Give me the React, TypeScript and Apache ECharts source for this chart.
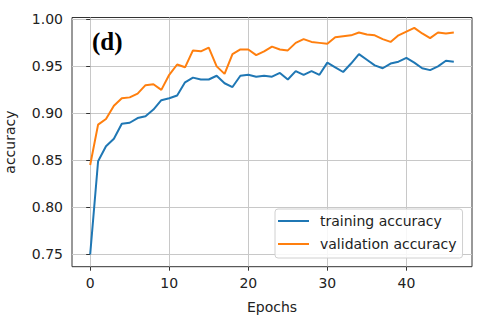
import React, { useEffect, useRef } from "react";
import * as echarts from "echarts";

const epochs: number[] = Array.from({ length: 47 }, (_, i) => i);
const trainingAcc: number[] = [
  0.75, 0.849, 0.865, 0.873, 0.889, 0.89, 0.895, 0.897, 0.904, 0.914,
  0.916, 0.919, 0.933, 0.938, 0.936, 0.936, 0.94, 0.932, 0.928, 0.94,
  0.941, 0.939, 0.94, 0.939, 0.943, 0.936, 0.945, 0.941, 0.945, 0.941,
  0.954, 0.949, 0.944, 0.953, 0.963, 0.957, 0.951, 0.948, 0.953, 0.955,
  0.959, 0.954, 0.948, 0.946, 0.95, 0.956, 0.955,
];
const validationAcc: number[] = [
  0.845, 0.888, 0.894, 0.908, 0.916, 0.917, 0.921, 0.93, 0.931, 0.925,
  0.941, 0.952, 0.949, 0.967, 0.966, 0.97, 0.95, 0.942, 0.963, 0.968,
  0.968, 0.962, 0.966, 0.971, 0.968, 0.967, 0.975, 0.979, 0.976, 0.975,
  0.974, 0.981, 0.982, 0.983, 0.986, 0.984, 0.983, 0.979, 0.976, 0.983,
  0.987, 0.991, 0.985, 0.98, 0.986, 0.985, 0.986,
];
const xTicks: number[] = [0, 10, 20, 30, 40];
const yTicks: number[] = [0.75, 0.8, 0.85, 0.9, 0.95, 1.0];
const seriesNames: string[] = ["training accuracy", "validation accuracy"];
const panelLabel = "(d)";

const FONT = "'DejaVu Sans', sans-serif";

export default function App() {
  const ref = useRef<HTMLDivElement>(null);
  useEffect(() => {
    if (!ref.current) return;
    const chart = echarts.init(ref.current, null, { renderer: "svg" });
    const axisCommon = {
      axisLine: { show: false },
      axisTick: { show: true, length: 4, inside: false, lineStyle: { color: "#333", width: 1 } },
      splitLine: { show: true, lineStyle: { color: "#c8c8c8", width: 1 } },
      nameTextStyle: { fontFamily: FONT, fontSize: 14, color: "#222" },
    };
    chart.setOption({
      animation: false,
      backgroundColor: "#fff",
      grid: {
        left: 72,
        top: 17.5,
        right: 8,
        bottom: 54.3,
        containLabel: false,
        outerBoundsMode: "none",
        show: true,
        borderColor: "#333",
        borderWidth: 1,
        backgroundColor: "transparent",
      },
      xAxis: {
        type: "value",
        min: -2.3,
        max: 48.3,
        name: "Epochs",
        nameLocation: "middle",
        nameGap: 33,
        ...axisCommon,
        axisTick: { ...axisCommon.axisTick, customValues: xTicks },
        axisLabel: {
          customValues: xTicks,
          margin: 9,
          fontFamily: FONT,
          fontSize: 14,
          color: "#222",
        },
      },
      yAxis: {
        type: "value",
        min: 0.7368,
        max: 1.002,
        name: "accuracy",
        nameLocation: "middle",
        nameGap: 55,
        ...axisCommon,
        axisTick: { ...axisCommon.axisTick, customValues: yTicks },
        axisLabel: {
          customValues: yTicks,
          margin: 9,
          fontFamily: FONT,
          fontSize: 14,
          color: "#222",
          formatter: (v: number) => v.toFixed(2),
        },
      },
      legend: {
        orient: "vertical",
        left: 275,
        top: 209,
        icon: "rect",
        itemWidth: 31,
        itemHeight: 2,
        itemGap: 7,
        padding: [4, 6, 6, 3],
        backgroundColor: "rgba(255,255,255,0.85)",
        borderColor: "#d0d0d0",
        borderWidth: 1,
        borderRadius: 3,
        textStyle: { fontFamily: FONT, fontSize: 14, color: "#222", lineHeight: 16, padding: [0, 0, 0, 6] },
        data: seriesNames,
      },
      graphic: [
        {
          type: "text",
          left: 92,
          top: 29,
          style: {
            text: panelLabel,
            font: "bold 25px 'Liberation Serif', 'Times New Roman', serif",
            fill: "#000",
          },
          z: 100,
        },
      ],
      series: [
        {
          name: seriesNames[0],
          type: "line",
          showSymbol: false,
          symbol: "none",
          lineStyle: { color: "#1f77b4", width: 2 },
          itemStyle: { color: "#1f77b4" },
          data: epochs.map((e, i) => [e, trainingAcc[i]]),
        },
        {
          name: seriesNames[1],
          type: "line",
          showSymbol: false,
          symbol: "none",
          lineStyle: { color: "#ff7f0e", width: 2 },
          itemStyle: { color: "#ff7f0e" },
          data: epochs.map((e, i) => [e, validationAcc[i]]),
        },
      ],
    });
    return () => chart.dispose();
  }, []);
  return (
    <div
      ref={ref}
      style={{ position: "absolute", left: 0, top: 0, width: 480, height: 321 }}
    />
  );
}
